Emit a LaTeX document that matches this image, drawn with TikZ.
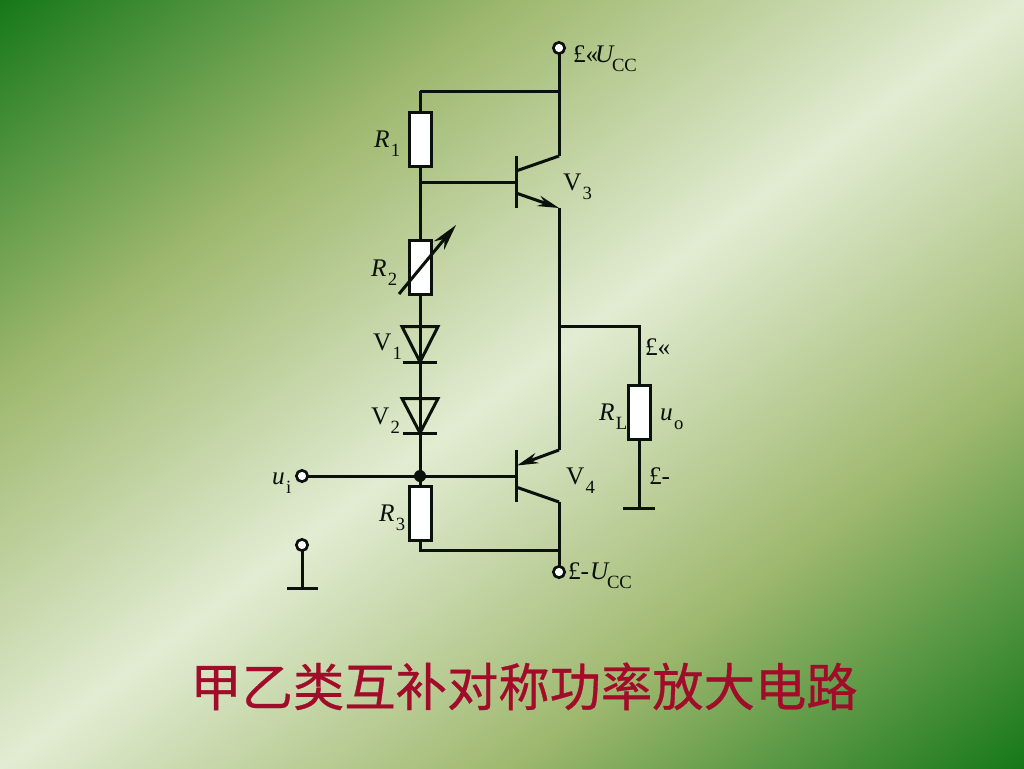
\documentclass[tikz,border=0pt]{standalone}
\usepackage{fontspec}
\usetikzlibrary{arrows.meta}
\setmainfont{Liberation Serif}
\newfontfamily\cjkfont{Noto Sans CJK SC}[FakeBold=0.6]
\definecolor{bgdark}{RGB}{22,120,26}
\definecolor{bgmid}{RGB}{158,184,110}
\definecolor{bglight}{RGB}{226,236,210}
\definecolor{ink}{RGB}{10,16,10}
\definecolor{titlered}{RGB}{160,12,42}
\pgfdeclarehorizontalshading{bgshade}{100bp}{
  color(0bp)=(bgdark);
  color(37.5bp)=(bgdark);
  color(43.75bp)=(bgmid);
  color(50bp)=(bglight);
  color(56.25bp)=(bgmid);
  color(62.5bp)=(bgdark);
  color(100bp)=(bgdark)}
\newcommand{\sublab}[3][1pt]{#2\kern#1\raisebox{-6.8pt}{\fontsize{14pt}{14pt}\selectfont #3}}
\tikzset{
  wire/.style={draw=ink,line width=2.25pt,line join=miter},
  resbox/.style={draw=ink,fill=white,line width=2.25pt,minimum width=16.5pt,minimum height=40.5pt,inner sep=0pt,outer sep=0pt},
  term/.style={circle,draw=ink,fill=white,line width=2pt,minimum size=8.5pt,inner sep=0pt,outer sep=0pt},
  junction/.style={circle,fill=ink,minimum size=9pt,inner sep=0pt,outer sep=0pt},
  lab/.style={anchor=base west,inner sep=0pt,outer sep=0pt,text=ink,font=\fontsize{19pt}{19pt}\selectfont},
  tip/.style={-{Stealth[length=16pt,width=8pt]}},
  bigtip/.style={-{Stealth[length=20pt,width=10pt]}}
}
\begin{document}
\begin{tikzpicture}[x=0.75pt,y=-0.75pt]
\path[use as bounding box] (0,0) rectangle (1024,768);
\begin{scope}
\clip (0,0) rectangle (1024,768);
\path[shading=bgshade,shading angle=-53.13] (512-1229,384-1229) rectangle (512+1229,384+1229);
\end{scope}
% terminals and junction points
\coordinate (topL) at (420,91);
\coordinate (topR) at (559,91);
\coordinate (bj1) at (420,182);
\coordinate (q3b) at (516,182);
\coordinate (q3t) at (516,156);
\coordinate (q3u) at (516,208);
\coordinate (q3c) at (516,171);
\coordinate (q3e) at (516,193);
\coordinate (c3) at (559,156);
\coordinate (e3) at (559,208);
\coordinate (out) at (559,326);
\coordinate (outR) at (639,326);
\coordinate (e4) at (559,450);
\coordinate (c4) at (559,502);
\coordinate (q4b) at (516,476);
\coordinate (q4t) at (516,450);
\coordinate (q4u) at (516,502);
\coordinate (q4e) at (517,465.5);
\coordinate (q4c) at (516,487);
\coordinate (botL) at (420,550);
\coordinate (botR) at (559,550);
\coordinate (gndL) at (639,508);
\coordinate (gndA) at (623,508);
\coordinate (gndB) at (655,508);
\coordinate (giL) at (302,588);
\coordinate (giA) at (287,588);
\coordinate (giB) at (318,588);
\coordinate (r2a) at (399,294);
\coordinate (r2b) at (456,225);
\coordinate (d1t) at (420,326);
\coordinate (d1b) at (420,362);
\coordinate (d2t) at (420,398);
\coordinate (d2b) at (420,433);
\coordinate (jc) at (420,476);
\coordinate (uic) at (302,476);
\coordinate (gic) at (302,545);
\coordinate (vccc) at (559,48);
\coordinate (veec) at (559,572);
% wires
\draw[wire] (vccc) -- (topR) -- (c3);
\draw[wire] (topR) -- (topL);
\draw[wire] (topL) -- (420,112);
\draw[wire] (bj1) -- (q3b);
\draw[wire] (420,166) -- (420,241);
\draw[wire] (420,294) -- (d1t);
\draw[wire] (d1t) -- (d1b) -- (d2t) -- (d2b) -- (jc);
\draw[wire] (uic) -- (jc) -- (q4b);
\draw[wire] (jc) -- (420,487);
\draw[wire] (420,540) -- (botL) -- (botR);
\draw[wire] (c4) -- (veec);
\draw[wire] (e3) -- (e4);
\draw[wire] (out) -- (outR) -- (639,385);
\draw[wire] (639,439) -- (gndL);
\draw[wire] (gndA) -- (gndB);
\draw[wire] (gic) -- (giL);
\draw[wire] (giA) -- (giB);
% nodes on top of wires
\node[term] (vcc) at (vccc) {};
\node[term] (vee) at (veec) {};
\node[term] (ui) at (uic) {};
\node[term] (gi) at (gic) {};
\node[junction] (j) at (jc) {};
% transistors
\draw[wire] (q3t) -- (q3u);
\draw[wire] (q3c) -- (c3);
\draw[wire,tip] (q3e) -- (e3);
\draw[wire] (q4t) -- (q4u);
\draw[wire,tip] (e4) -- (q4e);
\draw[wire] (q4c) -- (c4);
% diodes
\draw[wire] (402,326.5) -- (438,326.5) -- (d1b) -- cycle;
\draw[wire] (403,362) -- (437,362);
\draw[wire] (402,398.5) -- (438,398.5) -- (d2b) -- cycle;
\draw[wire] (403,433) -- (437,433);
% resistors
\node[resbox] (r1) at (420,139) {};
\node[resbox] (r2) at (420,267.5) {};
\node[resbox] (r3) at (420,513.5) {};
\node[resbox] (rl) at (639,412) {};
\draw[wire,bigtip] (r2a) -- (r2b);
% labels
\node[lab] (t1) at (573,62) {£«};
\node[lab] (t2) at (595,62) {\sublab[-2pt]{\textit{U}}{CC}};
\node[lab] (t3) at (374,147) {\sublab{\textit{R}}{1}};
\node[lab] (t4) at (563,190) {\sublab{V}{3}};
\node[lab] (t5) at (371,276) {\sublab{\textit{R}}{2}};
\node[lab] (t6) at (373,350) {\sublab{V}{1}};
\node[lab] (t7) at (371,424) {\sublab{V}{2}};
\node[lab] (t8) at (272,484) {\sublab{\textit{u}}{i}};
\node[lab] (t9) at (566,484) {\sublab{V}{4}};
\node[lab] (t10) at (379,521) {\sublab{\textit{R}}{3}};
\node[lab] (t11) at (599,420) {\sublab{\textit{R}}{L}};
\node[lab] (t12) at (660,420) {\sublab{\textit{u}}{o}};
\node[lab] (t13) at (645,355) {£«};
\node[lab] (t14) at (649,484) {£-};
\node[lab] (t15) at (568,579) {£-};
\node[lab] (t16) at (590,579) {\sublab[-2pt]{\textit{U}}{CC}};
\node[anchor=base,inner sep=0pt,text=titlered,font=\cjkfont\fontsize{38.5pt}{38.5pt}\selectfont] (title) at (524,706) {甲乙类互补对称功率放大电路};
\end{tikzpicture}
\end{document}
